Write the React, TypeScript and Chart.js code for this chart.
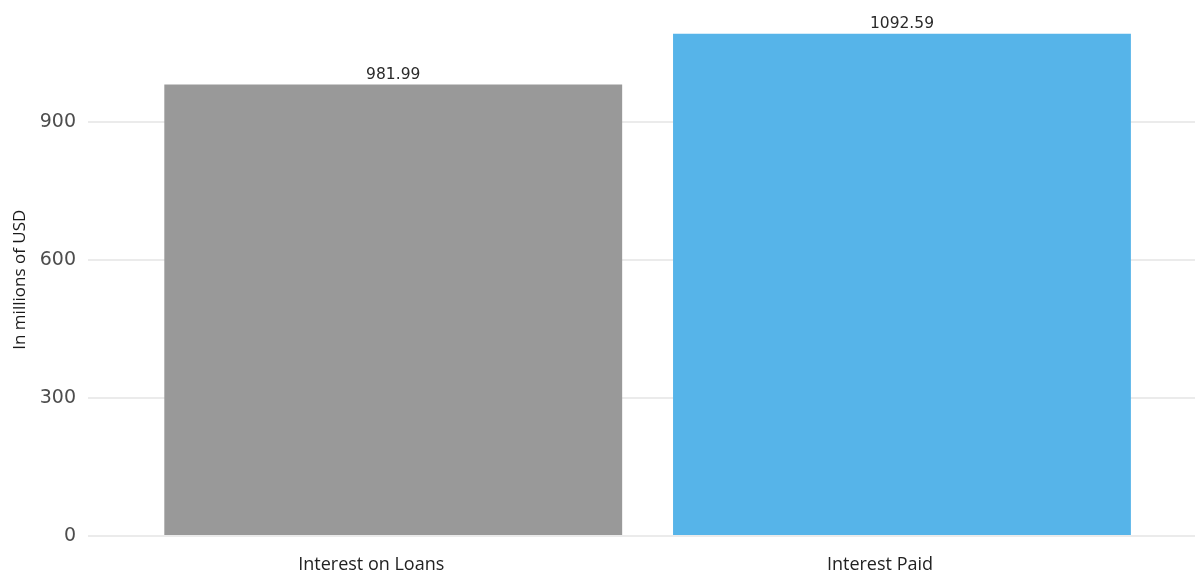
import React, { useEffect, useRef } from "react";
import { Chart, registerables } from "chart.js";

Chart.register(...registerables);

// Interest figures, in millions of USD
const categories = ["Interest on Loans", "Interest Paid"];
const amounts = [981.99, 1092.59];
const barColors = ["#999999", "#56B4E9"];
const yTickValues = [0, 300, 600, 900];

// Writes each bar's value just above its top edge
const valueLabels = {
  id: "valueLabels",
  afterDatasetsDraw(chart: any) {
    const ctx = chart.ctx;
    const meta = chart.getDatasetMeta(0);
    ctx.save();
    ctx.font = "15.5px 'DejaVu Sans'";
    ctx.fillStyle = "#2a2a2a";
    ctx.textAlign = "center";
    ctx.textBaseline = "middle";
    meta.data.forEach((bar: any, i: number) => {
      ctx.fillText(amounts[i].toFixed(2), bar.x, bar.y - 10);
    });
    ctx.restore();
  },
};

export default function App() {
  const canvasRef = useRef<HTMLCanvasElement | null>(null);

  useEffect(() => {
    if (!canvasRef.current) return;
    const chart = new Chart(canvasRef.current, {
      type: "bar",
      data: {
        datasets: [
          {
            data: amounts.map((v, i) => ({ x: i + 1, y: v })),
            backgroundColor: barColors,
            barPercentage: 0.9,
            categoryPercentage: 1,
            borderWidth: 0,
          },
        ],
      },
      options: {
        animation: false,
        responsive: true,
        maintainAspectRatio: false,
        layout: { padding: 0 },
        plugins: {
          legend: { display: false },
          tooltip: { enabled: false },
        },
        scales: {
          x: {
            type: "linear",
            offset: false,
            min: 0.4,
            max: 2.576,
            grid: { display: false },
            border: { display: false },
            afterBuildTicks: (scale: any) => {
              scale.ticks = categories.map((_, i) => ({ value: i + 1 }));
            },
            afterFit: (scale: any) => {
              scale.height = 40;
            },
            ticks: {
              autoSkip: false,
              maxRotation: 0,
              padding: 10,
              labelOffset: -22,
              color: "#222222",
              font: { family: "'Open Sans'", size: 18 },
              callback: (value: any) => categories[Math.round(value) - 1] ?? "",
            },
          },
          y: {
            type: "linear",
            min: 0,
            max: 1115,
            afterBuildTicks: (scale: any) => {
              scale.ticks = yTickValues.map((v) => ({ value: v }));
            },
            afterFit: (scale: any) => {
              scale.width = 88;
            },
            grid: {
              color: "#ebebeb",
              lineWidth: 2,
              drawTicks: false,
              tickLength: 0,
            },
            border: { display: false },
            ticks: {
              padding: 12,
              color: "#4d4d4d",
              font: { family: "'DejaVu Sans'", size: 19 },
            },
            title: {
              display: true,
              text: "In millions of USD",
              color: "#1a1a1a",
              font: { family: "'Open Sans'", size: 17 },
              padding: { top: 10, bottom: 0 },
            },
          },
        },
      },
      plugins: [valueLabels],
    });
    return () => chart.destroy();
  }, []);

  return (
    <div style={{ position: "absolute", left: 0, top: 0, width: 1195, height: 576, background: "#ffffff" }}>
      <canvas ref={canvasRef} />
    </div>
  );
}
